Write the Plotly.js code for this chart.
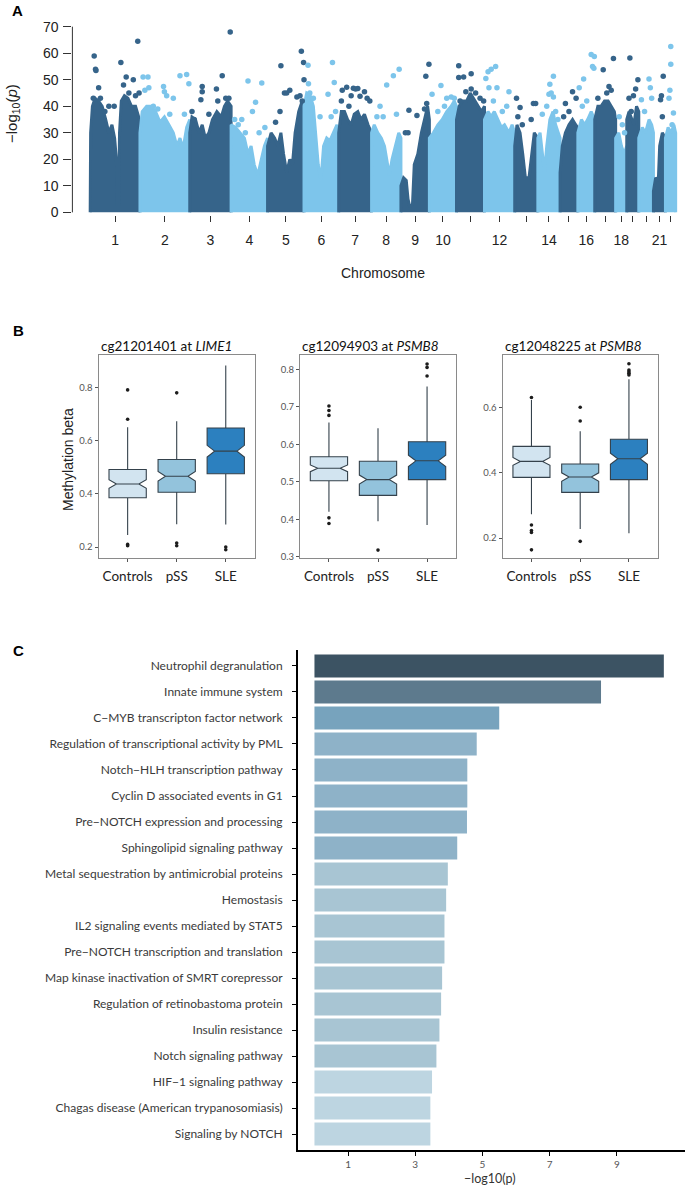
<!DOCTYPE html>
<html>
<head>
<meta charset="utf-8">
<script src="https://cdn.plot.ly/plotly-3.0.1.min.js"></script>
<style>html,body{margin:0;padding:0;background:#fff;}#chart{width:685px;height:1189px;}</style>
</head>
<body>
<div id="chart"></div>
<script>
// ---------------- Panel A : Manhattan plot ----------------
// chromosome boundaries (genome-position units as laid out in the figure)
const chromBounds = [203,315,427,520,602,684,762,836,902,966,1027,1090,1158,1210,1260,1300,1338,1385,1410,1437,1470,1497,1520];
const chromLabels = ['1','2','3','4','5','6','7','8','9','10','','12','','14','','16','','18','','','21',''];
// dense-mass outline of each chromosome (x positions, -log10 p heights)
const massX = [
 [203,204,208,214,222,230,238,245,252,258,262,264,267,269,273,280,288,296,305,312,315,315],
 [315,315,320,330,340,350,360,370,380,390,398,405,412,420,427,427],
 [427,427,432,440,448,455,462,470,478,488,498,505,512,520,520],
 [520,520,530,540,550,558,565,572,580,588,595,602,602],
 [602,602,610,618,625,632,638,645,652,658,664,672,680,684,684],
 [684,684,690,698,705,710,716,722,728,735,742,750,758,762,762],
 [762,762,768,775,782,790,797,805,812,820,828,836,836],
 [836,836,842,850,858,865,870,876,882,890,897,902,902],
 [902,902,908,914,918,922,928,932,940,948,955,962,966,966],
 [966,966,975,985,995,1005,1015,1022,1027,1027],
 [1027,1027,1033,1040,1050,1058,1065,1075,1083,1090,1090],
 [1090,1090,1098,1105,1112,1120,1128,1135,1145,1152,1158,1158],
 [1158,1158,1163,1170,1176,1182,1190,1196,1202,1210,1210],
 [1210,1210,1215,1220,1225,1230,1237,1244,1250,1256,1260,1260],
 [1260,1260,1265,1272,1280,1288,1295,1300,1300],
 [1300,1300,1308,1315,1322,1330,1338,1338],
 [1338,1338,1345,1352,1360,1368,1375,1382,1385,1385],
 [1385,1385,1392,1398,1404,1410,1410],
 [1410,1410,1415,1420,1426,1432,1437,1437],
 [1437,1437,1445,1452,1460,1466,1470,1470],
 [1470,1470,1475,1481,1484,1490,1497,1497],
 [1497,1497,1503,1510,1516,1520,1520]
];
const massY = [
 [0,30,40,43,42,40,35,30,33,28,20,3,3,30,42,44,43,40,40,36,30,0],
 [0,30,38,40,40,38,34,36,33,30,25,28,24,32,35,0],
 [0,30,36,35,30,33,28,30,35,38,36,40,42,40,0],
 [0,33,32,30,28,22,25,18,14,20,25,28,0],
 [0,25,30,28,25,30,22,15,20,18,30,38,42,40,0],
 [0,40,45,44,40,30,18,12,25,28,27,30,33,30,0],
 [0,30,38,38,35,33,37,38,35,37,33,30,0],
 [0,30,33,30,28,25,20,14,20,26,30,28,0],
 [0,10,13,12,5,2,3,18,22,30,35,40,35,0],
 [0,28,30,33,35,38,40,42,40,0],
 [0,35,40,42,42,45,43,40,38,40,0],
 [0,35,38,36,38,35,32,33,30,33,30,0],
 [0,25,33,30,22,13,13,22,30,28,0],
 [0,28,30,22,15,25,35,38,33,30,28,0],
 [0,15,25,30,33,35,33,32,0],
 [0,30,35,33,35,38,35,0],
 [0,35,40,40,42,42,40,38,35,0],
 [0,28,30,25,22,25,0],
 [0,35,38,36,33,40,38,0],
 [0,28,32,30,35,33,30,0],
 [0,8,13,12,25,30,28,0],
 [0,28,32,30,33,30,0]
];
// individual top probes: chromosome, position, -log10 p
const peakChr = [1,1,1,1,1,1,1,1,1,1,1,1,1,1,1,1,1,
 2,2,2,2,2,2,2,2,2,2,2,2,2,2,2,
 3,3,3,3,3,3,3,3,3,3,3,3,
 4,4,4,4,4,4,4,4,4,4,
 5,5,5,5,5,5,5,5,5,5,5,5,
 6,6,6,6,6,6,6,6,6,6,
 7,7,7,7,7,7,7,7,7,7,7,7,
 8,8,8,8,8,8,8,
 9,9,9,9,9,9,9,9,
 10,10,10,10,10,10,10,
 11,11,11,11,11,11,11,11,11,11,
 12,12,12,12,12,12,12,12,12,12,
 13,13,13,13,13,13,13,
 14,14,14,14,14,14,14,14,14,
 15,15,15,15,15,
 16,16,16,16,16,16,16,16,
 17,17,17,17,17,17,
 18,18,18,
 19,19,19,19,19,19,
 20,20,20,20,20,
 21,21,21,21,
 22,22,22,22,22,22];
const peakX = [212,215,216,222,210,226,236,245,257,272,278,284,290,300,305,310,313,
 322,333,326,335,345,355,368,370,375,390,382,405,420,425,415,
 432,437,455,455,452,470,487,490,500,508,515,518,
 528,536,544,552,558,568,575,583,589,596,
 620,630,632,640,645,652,668,675,678,680,684,683,
 693,694,697,705,720,738,745,748,752,755,
 768,770,780,785,790,795,800,805,810,820,826,832,
 848,855,862,870,885,898,892,
 912,918,920,938,955,958,960,965,
 972,985,992,1000,1005,1015,1022,
 1032,1032,1035,1043,1048,1060,1060,1070,1080,1088,
 1093,1098,1100,1105,1110,1115,1118,1130,1140,1145,
 1162,1165,1170,1175,1195,1200,1205,
 1220,1230,1235,1237,1240,1245,1245,1250,1255,
 1268,1272,1280,1288,1296,
 1303,1310,1313,1320,1330,1333,1336,1337,
 1345,1357,1365,1370,1375,1380,
 1393,1400,1405,
 1415,1417,1420,1425,1430,1435,
 1443,1450,1460,1463,1466,
 1486,1488,1490,1492,
 1505,1507,1509,1509,1512,1515];
const peakY = [59,54,53.5,47,43,43,38,40,40,56.5,48,51,45,50,44,64.5,45,
 51,51,46,47,40,39,47.5,45.5,44,43,37,51.5,52,48.5,37,
 38,35,47.5,45.5,42.5,37,46.5,42,51.5,43,43,68,
 35,33,35,30,49.5,38,41.5,30,48.8,32,
 34,38,55.3,45,45,46,43.5,44,60.7,42,50,56.5,
 55.5,48.5,45,43,36,44.5,36,56.5,49,38,
 42,46,47.2,40,44,46.8,46.5,46.7,43.8,45.5,43,42,
 36,40,36,48,51.5,54,37,
 30,30,38.5,36.5,39,51.3,41,55.8,
 44.5,38,47.8,40,43,43.5,43,
 55.3,50.8,42,51,45.5,52.3,46.5,45,43,42,
 50.5,53,47,54,42,55,47,38,40,45.5,
 43,36,39.5,33,35,41,41,
 37,40,44.5,48.3,45,51.3,43.5,38,35,
 36,41,38,45.5,43,
 47,40,50.3,42,59.5,55,54.3,58.8,
 43,53.8,45,47.5,46,58,
 36,33,30,
 43,58.2,38,44,46.5,50,
 42.5,38,50.3,47,43,
 42.5,44,36,51.3,
 43,46,55.8,62.5,33,37.5];

// ---------------- Panel B : box plots ----------------
const groups = ['Controls','pSS','SLE'];
const probeTitles = ['cg21201401 at <i>LIME1</i>','cg12094903 at <i>PSMB8</i>','cg12048225 at <i>PSMB8</i>'];
const q1Vals   = [[0.385,0.406,0.475],[0.503,0.464,0.506],[0.386,0.340,0.379]];
const medVals  = [[0.437,0.466,0.560],[0.536,0.506,0.556],[0.435,0.387,0.443]];
const q3Vals   = [[0.491,0.529,0.647],[0.567,0.555,0.607],[0.481,0.427,0.503]];
const loVals   = [[0.245,0.286,0.285],[0.420,0.395,0.385],[0.273,0.228,0.215]];
const hiVals   = [[0.650,0.672,0.882],[0.658,0.643,0.754],[0.623,0.527,0.687]];
const notchVals= [[0.016,0.018,0.022],[0.009,0.012,0.015],[0.012,0.013,0.017]];
const outGroup = [[0,0,0,0,1,1,1,2,2],[0,0,0,0,0,1,2,2,2],[0,0,0,0,0,1,1,1,2,2,2,2,2]];
const outVals  = [[0.79,0.68,0.21,0.205,0.779,0.215,0.205,0.20,0.19],
                  [0.702,0.690,0.677,0.404,0.389,0.318,0.814,0.805,0.782],
                  [0.631,0.240,0.223,0.217,0.164,0.601,0.559,0.190,0.734,0.715,0.710,0.705,0.700]];
const bYTicks  = [[0.2,0.4,0.6,0.8],[0.3,0.4,0.5,0.6,0.7,0.8],[0.2,0.4,0.6]];

// ---------------- Panel C : pathway enrichment ----------------
const pathways = ['Neutrophil degranulation','Innate immune system','C\u2212MYB transcripton factor network',
 'Regulation of transcriptional activity by PML','Notch\u2212HLH transcription pathway','Cyclin D associated events in G1',
 'Pre\u2212NOTCH expression and processing','Sphingolipid signaling pathway','Metal sequestration by antimicrobial proteins',
 'Hemostasis','IL2 signaling events mediated by STAT5','Pre\u2212NOTCH transcription and translation',
 'Map kinase inactivation of SMRT corepressor','Regulation of retinobastoma protein','Insulin resistance',
 'Notch signaling pathway','HIF\u22121 signaling pathway','Chagas disease (American trypanosomiasis)','Signaling by NOTCH'];
const negLogP = [10.4,8.53,5.50,4.83,4.55,4.55,4.54,4.25,3.97,3.92,3.87,3.87,3.80,3.77,3.72,3.63,3.50,3.45,3.45];

// ---------------- styling ----------------
const W = 685, H = 1189;
const px = v => v / W, py = v => 1 - v / H;
const DARK = '#36648a', LIGHT = '#7dc5eb';
const boxFill = ['#d2e4f0','#93c3dc','#2c80bf'];
const barColors = ['#3c5363','#5d7a8d','#77a3bd','#8eb2c8','#8eb2c8','#8eb2c8','#8eb2c8','#8eb2c8',
 '#a8c5d3','#a8c5d3','#a8c5d3','#a8c5d3','#a8c5d3','#a8c5d3','#a8c5d3','#a8c5d3','#bdd5e1','#bdd5e1','#bdd5e1'];

const traces = [];
// Panel A masses
for (let i = 0; i < massX.length; i++) {
  const c = i % 2 === 0 ? DARK : LIGHT;
  traces.push({type:'scatter', mode:'lines', x:massX[i], y:massY[i], fill:'toself', fillcolor:c,
    line:{color:c, width:3}, hoverinfo:'skip', xaxis:'x', yaxis:'y'});
}
// Panel A peaks
traces.push({type:'scatter', mode:'markers', x:peakX, y:peakY,
  marker:{size:5.5, color:peakChr.map(c => c % 2 === 1 ? DARK : LIGHT)}, hoverinfo:'skip', xaxis:'x', yaxis:'y'});

const chromCenters = [];
for (let i = 0; i < chromBounds.length - 1; i++) chromCenters.push((chromBounds[i] + chromBounds[i+1]) / 2);

// Panel B
for (let p = 0; p < 3; p++) {
  const ax = 'x' + (p + 2), ay = 'y' + (p + 2);
  for (let g = 0; g < 3; g++) {
    traces.push({type:'box', x:[g], q1:[q1Vals[p][g]], median:[medVals[p][g]], q3:[q3Vals[p][g]],
      lowerfence:[loVals[p][g]], upperfence:[hiVals[p][g]], notched:true, notchspan:[notchVals[p][g]],
      notchwidth:0.2, width:0.76, whiskerwidth:0, fillcolor:boxFill[g],
      line:{color:'#34414b', width:1.1}, boxpoints:false, hoverinfo:'skip', xaxis:ax, yaxis:ay});
  }
  traces.push({type:'scatter', mode:'markers', x:outGroup[p], y:outVals[p],
    marker:{size:3.6, color:'#1c1c1c'}, hoverinfo:'skip', xaxis:ax, yaxis:ay});
}

// Panel C
traces.push({type:'bar', orientation:'h', x:negLogP, y:pathways.map((_, i) => i),
  marker:{color:barColors, line:{width:0}}, width:0.89, hoverinfo:'skip', xaxis:'x5', yaxis:'y5'});

function note(text, x, y, font, extra) {
  return Object.assign({text:text, xref:'paper', yref:'paper', x:px(x), y:py(y), xanchor:'center', yanchor:'middle',
    showarrow:false, font:font}, extra || {});
}

const layout = {
  width: W, height: H, margin:{l:0, r:0, t:0, b:0}, showlegend:false,
  paper_bgcolor:'#fff', plot_bgcolor:'rgba(0,0,0,0)', font:{family:'Lato', color:'#222'},
  xaxis:{domain:[px(72.4), 1], range:[163, 1541], anchor:'y', showline:false, zeroline:false, showgrid:false,
    tickvals:chromCenters, ticktext:chromLabels, ticks:'outside', ticklen:6, tickcolor:'#333', tickwidth:1,
    tickfont:{family:'Liberation Sans', size:14, color:'#222'}, ticklabelstandoff:6},
  yaxis:{domain:[py(215), py(21.4)], range:[-1, 72], anchor:'x', showline:false, zeroline:false, showgrid:false,
    tickvals:[0,10,20,30,40,50,60,70], ticks:'outside', ticklen:8, tickcolor:'#333', tickwidth:1,
    tickfont:{family:'Liberation Sans', size:14, color:'#222'}, ticklabelstandoff:2},
  xaxis5:{domain:[px(298), 1], range:[-0.49, 11.03], anchor:'y5', showline:true, linecolor:'#000', linewidth:2,
    zeroline:false, showgrid:false, tickvals:[1,3,5,7,9], ticks:'outside', ticklen:4, tickcolor:'#000',
    tickfont:{family:'Lato', size:10, color:'#555'}},
  yaxis5:{domain:[py(1150), py(650)], range:[18.615, -0.615], anchor:'x5', showline:true, linecolor:'#000', linewidth:2,
    zeroline:false, showgrid:false, tickvals:pathways.map((_, i) => i), ticktext:pathways, ticks:'outside', ticklen:4,
    tickcolor:'#000', tickfont:{family:'Lato', size:12, color:'#3a3a3a'}, ticklabelstandoff:7},
  shapes:[{type:'line', xref:'paper', yref:'y', x0:px(72.4), x1:px(72.4), y0:0, y1:70, line:{color:'#333', width:1}}],
  annotations:[
    note('<b>A</b>', 17, 11, {family:'Liberation Sans', size:15, color:'#000'}),
    note('<b>B</b>', 18, 330, {family:'Liberation Sans', size:15, color:'#000'}),
    note('<b>C</b>', 18, 650, {family:'Liberation Sans', size:15, color:'#000'}),
    note('\u2212log<sub>10</sub>(<i>p</i>)', 12, 114, {family:'Liberation Sans', size:15, color:'#222'}, {textangle:-90}),
    note('Chromosome', 383, 273, {family:'Liberation Sans', size:14, color:'#222'}),
    note('Methylation beta', 68, 460, {family:'Liberation Sans', size:14, color:'#222'}, {textangle:-90}),
    note('\u2212log10(p)', 489, 1178, {family:'Lato', size:12.5, color:'#333'})
  ]
};

const bFrames = [[98.7, 254.7], [300, 456], [502.7, 657.7]];
const bRanges = [[0.159, 0.921], [0.297, 0.838], [0.139, 0.761]];
for (let p = 0; p < 3; p++) {
  const n = p + 2;
  layout['xaxis' + n] = {domain:[px(bFrames[p][0]), px(bFrames[p][1])], range:[-0.59, 2.59], anchor:'y' + n,
    showline:true, mirror:true, linecolor:'#8a8a8a', linewidth:1.2, zeroline:false, showgrid:false,
    tickvals:[0,1,2], ticktext:groups, ticks:'outside', ticklen:3, tickcolor:'#555',
    tickfont:{family:'Lato', size:13.5, color:'#222'}, ticklabelstandoff:3};
  layout['yaxis' + n] = {domain:[py(558), py(355)], range:bRanges[p], anchor:'x' + n,
    showline:true, mirror:true, linecolor:'#8a8a8a', linewidth:1.2, zeroline:false, showgrid:false,
    tickvals:bYTicks[p], tickformat:'.1f', ticks:'outside', ticklen:3, tickcolor:'#555',
    tickfont:{family:'Lato', size:9.5, color:'#555'}};
  layout.annotations.push(note(probeTitles[p], bFrames[p][0], 346, {family:'Lato', size:13.5, color:'#111'}, {xanchor:'left'}));
}

Plotly.newPlot('chart', traces, layout, {staticPlot:true, displayModeBar:false});
</script>
</body>
</html>
